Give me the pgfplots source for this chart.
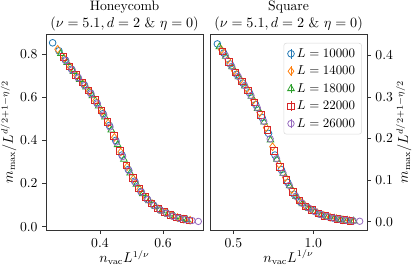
\documentclass[border=0pt]{standalone}
\usepackage{pgfplots}
\pgfplotsset{compat=1.18}
\usetikzlibrary{plotmarks}
\definecolor{tabblue}{HTML}{1F77B4}
\definecolor{taborange}{HTML}{FF7F0E}
\definecolor{tabgreen}{HTML}{2CA02C}
\definecolor{tabred}{HTML}{D62728}
\definecolor{tabpurple}{HTML}{9467BD}
\pgfplotsset{
  mylegend/.style={legend image code/.code={
    \draw[line width=0.6pt] (0.15cm,-0.13cm) -- (0.15cm,0.13cm);
    \draw[mark repeat=2,mark phase=2] plot coordinates {(0cm,0cm) (0.15cm,0cm) (0.3cm,0cm)};}},
  sb/.style={only marks, mark=o, color=tabblue, mark options={draw=tabblue}, mark size=2.6pt, line width=0.6pt, mylegend},
  so/.style={only marks, mark=diamond, color=taborange, mark options={draw=taborange}, mark size=3.0pt, line width=0.6pt, mylegend},
  sg/.style={only marks, mark=triangle, color=tabgreen, mark options={draw=tabgreen}, mark size=3.0pt, line width=0.6pt, mylegend},
  sr/.style={only marks, mark=square, color=tabred, mark options={draw=tabred}, mark size=2.5pt, line width=0.6pt, mylegend},
  sp/.style={only marks, mark=o, color=tabpurple, mark options={draw=tabpurple}, mark size=2.5pt, line width=0.6pt, mylegend},
  myaxis/.style={scale only axis, width=121.7pt, height=151.9pt,
    axis line style={black!80}, tick align=outside, major tick length=3pt,
    every tick/.style={black!80},
    tick label style={font=\fontsize{10.6}{12}\selectfont},
    label style={font=\fontsize{10.6}{12}\selectfont},
    title style={align=center, yshift=-7.5pt, font=\fontsize{10.6}{13.6}\selectfont},
    xlabel={$n_{\mathrm{vac}}L^{1/\nu}$}, ylabel={$m_{\max}/L^{d/2+1-\eta/2}$},
    xlabel style={yshift=5pt}},
}
\begin{document}
\begin{tikzpicture}
\path[use as bounding box] (-35.65pt,-31.8pt) rectangle (285.95pt,178.2pt);
\begin{axis}[myaxis, xmin=0.229, xmax=0.727, ymin=-0.015, ymax=0.893,
  xtick={0.4,0.6}, ytick={0,0.2,0.4,0.6,0.8},
  xticklabels={0.4,0.6}, yticklabels={0.0,0.2,0.4,0.6,0.8},
  xtick pos=bottom, ytick pos=left, ylabel style={yshift=-4pt},
  title={Honeycomb\\$(\nu=5.1,d=2$ \& $\eta=0)$}]
\addplot[sb] coordinates {(0.250,0.852)(0.270,0.815)(0.290,0.773)(0.310,0.730)(0.330,0.692)(0.350,0.658)(0.370,0.620)(0.390,0.574)(0.410,0.524)(0.430,0.469)(0.450,0.400)(0.470,0.332)(0.490,0.265)(0.510,0.211)(0.530,0.163)(0.550,0.128)(0.570,0.100)(0.590,0.078)(0.610,0.063)(0.630,0.050)(0.650,0.040)(0.670,0.034)};
\addplot[so] coordinates {(0.266,0.822)(0.286,0.781)(0.306,0.739)(0.326,0.700)(0.346,0.665)(0.366,0.628)(0.386,0.583)(0.406,0.534)(0.426,0.480)(0.446,0.414)(0.466,0.346)(0.486,0.278)(0.506,0.222)(0.526,0.173)(0.546,0.135)(0.566,0.106)(0.586,0.082)(0.606,0.066)(0.626,0.053)(0.646,0.042)(0.666,0.035)(0.686,0.030)};
\addplot[sg] coordinates {(0.276,0.802)(0.296,0.760)(0.316,0.719)(0.336,0.682)(0.356,0.647)(0.376,0.606)(0.396,0.559)(0.416,0.508)(0.436,0.448)(0.456,0.380)(0.476,0.312)(0.496,0.249)(0.516,0.197)(0.536,0.153)(0.556,0.120)(0.576,0.093)(0.596,0.074)(0.616,0.059)(0.636,0.047)(0.656,0.038)(0.676,0.033)};
\addplot[sr] coordinates {(0.284,0.786)(0.304,0.743)(0.324,0.703)(0.344,0.668)(0.364,0.631)(0.384,0.588)(0.404,0.539)(0.424,0.486)(0.444,0.421)(0.464,0.352)(0.484,0.285)(0.504,0.227)(0.524,0.177)(0.544,0.139)(0.564,0.108)(0.584,0.085)(0.604,0.068)(0.624,0.054)(0.644,0.043)(0.664,0.036)(0.684,0.0305)};
\addplot[sp] coordinates {(0.292,0.769)(0.312,0.726)(0.332,0.689)(0.352,0.654)(0.372,0.615)(0.392,0.569)(0.412,0.518)(0.432,0.462)(0.452,0.393)(0.472,0.325)(0.492,0.260)(0.512,0.206)(0.532,0.160)(0.552,0.125)(0.572,0.098)(0.592,0.0765)(0.612,0.0617)(0.632,0.049)(0.652,0.0394)(0.672,0.0335)(0.692,0.0286)(0.712,0.0246)};
\end{axis}
\begin{axis}[myaxis, xshift=127.1pt, xmin=0.354, xmax=1.336, ymin=-0.02, ymax=0.451,
  xtick={0.5,1.0}, ytick={0,0.1,0.2,0.3,0.4},
  xticklabels={0.5,1.0}, yticklabels={0.0,0.1,0.2,0.3,0.4},
  xtick pos=bottom, ytick pos=right, yticklabel pos=right, ylabel style={yshift=4.5pt},
  title={Square\\$(\nu=5.1,d=2$ \& $\eta=0)$},
  legend style={at={(0.967,0.954)}, anchor=north east, draw=black!15, rounded corners=2pt,
    row sep=1.2pt, inner xsep=3pt, inner ysep=2pt},
  legend cell align=left]
\addplot[sb] coordinates {(0.40,0.427)(0.44,0.405)(0.48,0.379)(0.52,0.354)(0.56,0.333)(0.60,0.310)(0.64,0.281)(0.68,0.250)(0.72,0.212)(0.76,0.160)(0.80,0.125)(0.84,0.094)(0.88,0.066)(0.92,0.047)(0.96,0.035)(1.00,0.026)(1.04,0.018)(1.08,0.013)(1.12,0.009)(1.16,0.006)(1.20,0.0035)};
\addlegendentry{$L=10000$}
\addplot[so] coordinates {(0.425,0.413)(0.465,0.389)(0.505,0.363)(0.545,0.341)(0.585,0.319)(0.625,0.292)(0.665,0.262)(0.705,0.226)(0.745,0.180)(0.785,0.138)(0.825,0.106)(0.865,0.077)(0.905,0.054)(0.945,0.040)(0.985,0.029)(1.025,0.021)(1.065,0.015)(1.105,0.0105)(1.145,0.0071)(1.185,0.0044)(1.225,0.0026)};
\addlegendentry{$L=14000$}
\addplot[sg] coordinates {(0.412,0.420)(0.452,0.397)(0.492,0.372)(0.532,0.348)(0.572,0.326)(0.612,0.301)(0.652,0.272)(0.692,0.239)(0.732,0.196)(0.772,0.150)(0.812,0.116)(0.852,0.086)(0.892,0.060)(0.932,0.043)(0.972,0.032)(1.012,0.024)(1.052,0.0165)(1.092,0.0118)(1.132,0.0081)(1.172,0.0053)(1.212,0.0031)(1.252,0.0017)};
\addlegendentry{$L=18000$}
\addplot[sr] coordinates {(0.432,0.409)(0.472,0.384)(0.512,0.359)(0.552,0.337)(0.592,0.315)(0.632,0.287)(0.672,0.256)(0.712,0.220)(0.752,0.170)(0.792,0.132)(0.832,0.100)(0.872,0.072)(0.912,0.051)(0.952,0.037)(0.992,0.028)(1.032,0.0196)(1.072,0.014)(1.112,0.0098)(1.152,0.0066)(1.192,0.004)(1.232,0.0023)};
\addlegendentry{$L=22000$}
\addplot[sp] coordinates {(0.45,0.399)(0.49,0.373)(0.53,0.349)(0.57,0.327)(0.61,0.303)(0.65,0.273)(0.69,0.241)(0.73,0.199)(0.77,0.151)(0.81,0.117)(0.85,0.087)(0.89,0.061)(0.93,0.044)(0.97,0.033)(1.01,0.024)(1.05,0.0167)(1.09,0.012)(1.13,0.0082)(1.17,0.0054)(1.21,0.0031)(1.25,0.0018)(1.29,0.0009)};
\addlegendentry{$L=26000$}
\end{axis}
\end{tikzpicture}
\end{document}
